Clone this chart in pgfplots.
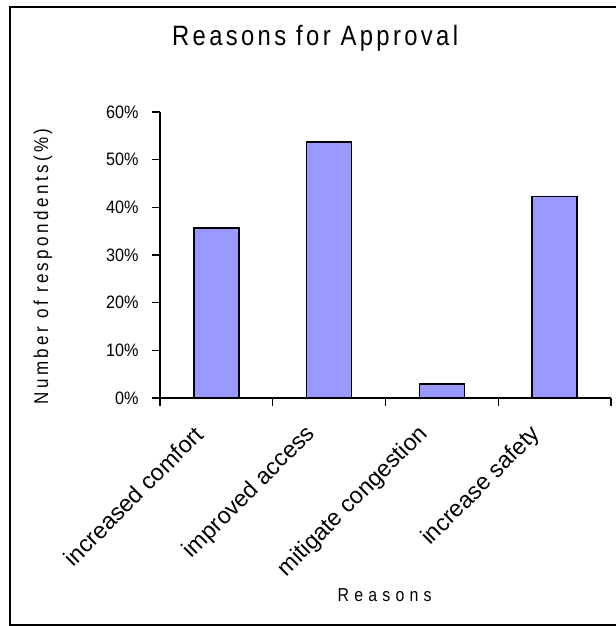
\documentclass[border=0pt]{standalone}
\usepackage{pgfplots}
\pgfplotsset{compat=1.18}
\usepackage{fontspec}
\setmainfont{Liberation Sans}
\newfontfamily\titlefont[LetterSpace=12,FakeStretch=0.85]{Liberation Sans}
\newfontfamily\ylabfont[LetterSpace=17,FakeStretch=0.85]{Liberation Sans}
\newfontfamily\xlabfont[LetterSpace=28,FakeStretch=0.85]{Liberation Sans}
\newfontfamily\tickfont[FakeStretch=0.9]{Liberation Sans}
\definecolor{barfill}{RGB}{153,153,255}
\begin{document}
\begin{tikzpicture}
\useasboundingbox (0,0) rectangle (462pt,469.5pt);
\draw[line width=1.5pt] (462pt,464.25pt) -- (7.5pt,464.25pt) -- (7.5pt,0.75pt) -- (462pt,0.75pt);
\begin{axis}[
  at={(120pt,171pt)}, anchor=south west,
  scale only axis, width=338.25pt, height=214.5pt,
  xmin=-0.5, xmax=3.5, ymin=0, ymax=60,
  axis lines=left, axis line style={-, line width=0.9pt},
  tick align=outside, major tick length=6pt,
  tick style={line width=0.9pt, black},
  ytick={0,10,20,30,40,50,60},
  yticklabels={0\%,10\%,20\%,30\%,40\%,50\%,60\%},
  yticklabel style={font=\tickfont\fontsize{13.5}{15}\selectfont, xshift=-6.5pt},
  xtick={-0.5,0.5,1.5,2.5,3.5},
  xticklabels={},
  extra x ticks={0,1,2,3},
  extra x tick labels={increased comfort,improved access,mitigate congestion,increase safety},
  extra x tick style={major tick length=0pt, tick label style={rotate=45, anchor=east, inner sep=0pt, xshift=-26.5pt, yshift=-8pt, font=\fontsize{17.5}{19}\selectfont}},
  every axis title shift=0pt,
  title={\titlefont Reasons for Approval},
  title style={at={(axis description cs:0.344,1.231)}, anchor=base, font=\fontsize{21}{24}\selectfont},
  xlabel={\xlabfont Reasons},
  xlabel style={at={(axis description cs:0.498,-0.710)}, anchor=base, font=\fontsize{14}{16}\selectfont},
  ylabel={\ylabfont Number of respondents(\%)},
  ylabel style={at={(axis description cs:-0.248,0.46)}, anchor=base, rotate=0, font=\fontsize{15}{17}\selectfont},
]
\addplot[ybar, bar width=0.4, fill=barfill, draw=black, line width=1.1pt] coordinates {(0,35.7) (1,53.7) (2,2.9) (3,42.3)};
\end{axis}
\end{tikzpicture}
\end{document}
